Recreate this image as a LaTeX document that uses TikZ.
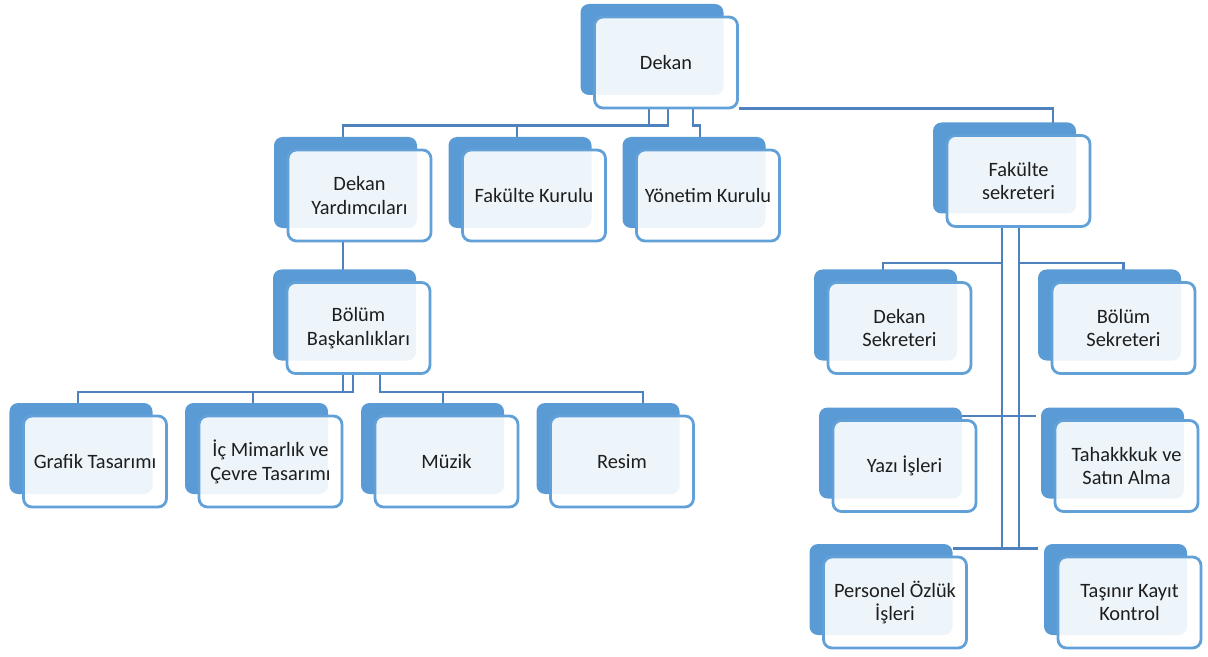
\documentclass[tikz,border=0pt]{standalone}
\usepackage{fontspec}
\setmainfont{Carlito}
\usetikzlibrary{shadows,backgrounds}
\definecolor{hopmau}{HTML}{5B9BD5}
\definecolor{vienmau}{HTML}{62A0D8}
\definecolor{noimau}{HTML}{4F81BD}
\definecolor{chumau}{HTML}{1E1E1E}
\begin{document}
\begin{tikzpicture}
	\tikzset{
		every node/.style={font=\fontsize{11.6}{13.6}\selectfont,text=chumau},
		% hop
		hop/.style={draw=vienmau,line width=1.6pt,rounded corners=0.17cm,fill=white,fill opacity=0.9,text opacity=1,
			minimum width=2.86cm,minimum height=1.82cm,align=center,
			copy shadow={shadow xshift=-0.28cm,shadow yshift=0.26cm,opacity=1,fill=hopmau,draw=none}},
		% noi
		noi/.style={draw=noimau,line width=1.35pt},
	}
	\useasboundingbox (0,0) rectangle (24.16,-13.14);
	%
	\node[hop] (dekan) at (13.32,-1.25) {Dekan};
	\node[hop] (dy) at (7.19,-3.91) {Dekan\\Yardımcıları};
	\node[hop] (fk) at (10.68,-3.91) {Fakülte Kurulu};
	\node[hop] (yk) at (14.16,-3.91) {Yönetim Kurulu};
	\node[hop] (fs) at (20.37,-3.62) {Fakülte\\sekreteri};
	\node[hop] (bb) at (7.17,-6.56) {Bölüm\\Başkanlıkları};
	% bolumler
	\node[hop] (gt) at (1.90,-9.23) {Grafik Tasarımı};
	\node[hop] (ic) at (5.41,-9.23) {İç Mimarlık ve\\Çevre Tasarımı};
	\node[hop] (mz) at (8.93,-9.23) {Müzik};
	\node[hop] (rs) at (12.44,-9.23) {Resim};
	% sekreterlik
	\node[hop] (ds) at (17.99,-6.56) {Dekan\\Sekreteri};
	\node[hop] (bs) at (22.47,-6.56) {Bölüm\\Sekreteri};
	\node[hop] (yi) at (18.09,-9.32) {Yazı İşleri};
	\node[hop] (ta) at (22.53,-9.32) {Tahakkkuk ve\\Satın Alma};
	\node[hop] (po) at (17.90,-12.05) {Personel Özlük\\İşleri};
	\node[hop] (tk) at (22.59,-12.05) {Taşınır Kayıt\\Kontrol};
	%
	\begin{scope}[on background layer]
	\draw[noi]([xshift=-0.34cm]dekan.south)--++(0,-0.32)-|([xshift=-0.33cm]dy.north);
	\draw[noi]([xshift=0.04cm]dekan.south)--++(0,-0.32)-|([xshift=-0.34cm]fk.north);
	\draw[noi]([xshift=0.54cm]dekan.south)--++(0,-0.32)-|([xshift=-0.16cm]yk.north);
	\draw[noi]([yshift=0.02cm]dekan.south east)-|([xshift=0.69cm]fs.north);
	\draw[noi]([xshift=-0.33cm]dy.south)--([xshift=-0.33cm]dy.south|-bb.north);
	%
	\draw[noi]([xshift=-0.31cm]bb.south)--++(0,-0.34)-|([xshift=-0.34cm]gt.north);
	\draw[noi]([xshift=-0.11cm]bb.south)--++(0,-0.34)-|([xshift=-0.35cm]ic.north);
	\draw[noi]([xshift=0.43cm]bb.south)--++(0,-0.34)-|([xshift=-0.07cm]mz.north);
	\draw[noi]([xshift=0.43cm]bb.south)--++(0,-0.34)-|([xshift=0.42cm]rs.north);
	%
	\draw[noi]([xshift=-0.33cm]fs.south)--++(0,-0.7)-|([xshift=-0.33cm]ds.north);
	\draw[noi]([xshift=0.01cm]fs.south)--++(0,-0.7)-|(bs.north);
	\draw[noi]([xshift=0.01cm]fs.south)|-([xshift=-0.3cm,yshift=0.06cm]yi.north east);
	\draw[noi]([xshift=-0.33cm]fs.south)|-([xshift=-0.36cm,yshift=0.06cm]ta.north west);
	\draw[noi]([xshift=0.01cm]fs.south)|-([xshift=-0.3cm,yshift=0.14cm]po.north east);
	\draw[noi]([xshift=-0.33cm]fs.south)|-([xshift=-0.38cm,yshift=0.14cm]tk.north west);
	\end{scope}
\end{tikzpicture}
\end{document}
